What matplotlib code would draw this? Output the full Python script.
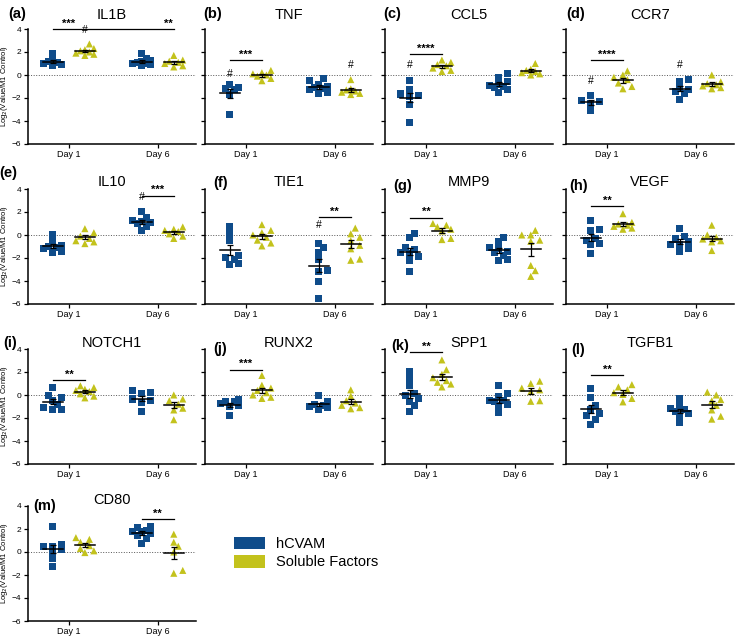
import numpy as np
import matplotlib
matplotlib.use("Agg")
import matplotlib.pyplot as plt
from matplotlib.patches import Patch

plt.rcParams['font.family'] = ['Liberation Sans', 'DejaVu Sans']

# thứ tự mỗi gen: Day1 hCVAM, Day1 Soluble, Day6 hCVAM, Day6 Soluble
IL1B = [[1.85, 1.2, 1.1, 1.0, 0.9, 1.3, 0.8],
        [2.7, 2.2, 2.0, 1.9, 1.7, 2.1, 1.8, 2.3],
        [1.85, 1.4, 1.2, 1.0, 0.9, 0.8, 1.1, 1.3, 1.0],
        [1.7, 1.3, 1.1, 1.0, 0.8, 0.7, 1.2]]
TNF = [[-0.8, -1.1, -1.2, -1.3, -1.7, -3.4],
       [0.4, 0.2, 0.1, 0.0, -0.1, -0.3, -0.5],
       [-0.3, -0.5, -0.8, -1.0, -1.1, -1.2, -1.3, -1.5, -1.6],
       [-0.4, -1.2, -1.3, -1.4, -1.5, -1.6, -1.7]]
CCL5 = [[-0.5, -1.25, -1.65, -1.75, -1.9, -2.55, -4.1],
        [1.3, 1.1, 0.9, 0.8, 0.6, 0.4, 0.3],
        [0.1, -0.2, -0.6, -0.8, -0.9, -1.0, -1.1, -1.3, -1.5],
        [1.0, 0.5, 0.4, 0.3, 0.2, 0.1, 0.0]]
CCR7 = [[-1.75, -2.2, -2.3, -2.5, -3.1],
        [0.35, 0.0, -0.2, -0.4, -0.7, -1.0, -1.2],
        [-0.4, -0.55, -1.1, -1.25, -1.4, -1.6, -2.1],
        [0.0, -0.6, -0.75, -0.85, -0.95, -1.1, -1.2]]
IL10 = [[0.0, -0.6, -0.9, -1.0, -1.1, -1.2, -1.4, -1.5],
        [0.55, 0.2, -0.1, -0.3, -0.5, -0.6, -0.75],
        [2.05, 1.5, 1.3, 1.2, 1.1, 1.0, 0.75, 0.4],
        [0.7, 0.5, 0.4, 0.3, 0.1, -0.1, -0.3]]
TIE1 = [[0.7, 0.1, -0.45, -1.8, -1.95, -2.1, -2.45, -2.6],
        [0.9, 0.4, 0.2, 0.0, -0.2, -0.45, -0.7, -0.95],
        [-0.73, -1.08, -1.5, -2.15, -3.1, -3.2, -4.07, -5.5],
        [0.6, 0.1, -0.2, -0.5, -0.9, -1.2, -2.1, -2.2]]
MMP9 = [[0.1, -0.25, -1.1, -1.3, -1.5, -1.65, -1.9, -2.2, -3.2],
        [1.0, 0.85, 0.7, 0.5, 0.35, -0.3, -0.4],
        [-0.2, -0.6, -1.05, -1.2, -1.5, -1.75, -2.1, -2.2, -1.4],
        [0.4, 0.0, 0.0, -0.45, -0.55, -2.65, -3.1, -3.6]]
VEGF = [[1.3, 0.45, 0.4, -0.3, -0.45, -0.7, -0.85, -1.6],
        [1.85, 1.1, 0.95, 0.85, 0.75, 0.6, 0.5],
        [0.6, -0.1, -0.35, -0.6, -0.8, -0.8, -1.2, -1.4],
        [0.85, 0.0, -0.2, -0.35, -0.5, -0.6, -1.35]]
NOTCH1 = [[0.65, -0.05, -0.2, -0.5, -0.85, -1.1, -1.3, -1.3],
          [0.8, 0.65, 0.5, 0.4, 0.3, 0.1, -0.1, -0.25],
          [0.4, 0.25, 0.1, -0.35, -0.5, -0.65, -1.45],
          [0.0, -0.35, -0.5, -0.8, -1.15, -1.3, -2.15]]
RUNX2 = [[-0.4, -0.55, -0.7, -0.9, -1.0, -0.6, -1.75],
         [1.7, 0.85, 0.6, 0.4, 0.2, 0.0, -0.2, -0.3],
         [-0.05, -0.6, -0.8, -0.9, -1.0, -1.1, -1.3],
         [0.45, -0.1, -0.5, -0.7, -0.9, -1.1, -1.2]]
SPP1 = [[2.0, 1.35, 0.8, 0.1, -0.05, -0.3, -0.55, -0.95, -1.4],
        [3.05, 2.2, 1.8, 1.5, 1.25, 0.95, 0.7, 1.1],
        [0.85, 0.15, -0.15, -0.45, -0.6, -0.95, -1.55, -0.5, -0.8],
        [1.2, 1.0, 0.6, 0.45, 0.3, -0.5, -0.55]]
TGFB1 = [[0.6, -0.2, -0.95, -1.3, -1.6, -1.8, -2.1, -2.55],
         [0.9, 0.7, 0.45, 0.2, 0.05, -0.3, -0.6],
         [-0.35, -1.0, -1.3, -1.45, -1.6, -1.8, -2.4, -1.2],
         [0.25, 0.0, -0.4, -0.9, -1.3, -1.85, -2.1, -0.5]]
CD80 = [[2.2, 0.65, 0.5, 0.5, 0.2, -0.05, -0.6, -1.3],
        [1.25, 1.1, 0.85, 0.55, 0.3, 0.1, -0.05],
        [2.25, 2.1, 1.9, 1.75, 1.6, 1.4, 1.2, 0.7, 1.8],
        [1.55, 0.85, 0.5, 0.0, -1.6, -1.85]]

genes = ['IL1B', 'TNF', 'CCL5', 'CCR7', 'IL10', 'TIE1', 'MMP9', 'VEGF',
         'NOTCH1', 'RUNX2', 'SPP1', 'TGFB1', 'CD80']
gene_data = [IL1B, TNF, CCL5, CCR7, IL10, TIE1, MMP9, VEGF,
             NOTCH1, RUNX2, SPP1, TGFB1, CD80]
panel_labels = ['(a)', '(b)', '(c)', '(d)', '(e)', '(f)', '(g)', '(h)',
                '(i)', '(j)', '(k)', '(l)', '(m)']

# thanh ý nghĩa: (nhóm trái, nhóm phải, y, sao)
sig_bars = [[(0, 1, 4.0, '***'), (1, 3, 4.0, '**')],
            [(0, 1, 1.3, '***')],
            [(0, 1, 1.8, '****')],
            [(0, 1, 1.3, '****')],
            [(2, 3, 3.4, '***')],
            [(2, 3, 1.55, '**')],
            [(0, 1, 1.5, '**')],
            [(0, 1, 2.5, '**')],
            [(0, 1, 1.3, '**')],
            [(0, 1, 2.2, '***')],
            [(0, 1, 3.7, '**')],
            [(0, 1, 1.7, '**')],
            [(2, 3, 2.85, '**')]]
# dấu # : (nhóm, y)
hash_marks = [[(1, 3.5)], [(0, -0.35), (3, 0.45)], [(0, 0.4)],
              [(0, -1.0), (2, 0.45)], [(2, 2.85)], [(2, 0.45)],
              [], [], [], [], [], [], []]

days = ['Day 1', 'Day 6']
groups = ['hCVAM', 'Soluble Factors']
colors = ['#0f4c8a', '#c3c21c']
markers = ['s', '^']

W, H = 738, 638
col_left = [28, 205, 385, 566]
row_top = [29, 189, 349, 506]
ax_w, ax_h = 168, 115
label_pos = [(-0.12, 1.13), (-0.01, 1.13), (-0.01, 1.13), (0.0, 1.13),
             (-0.17, 1.14), (0.05, 1.05), (0.05, 1.03), (0.02, 1.03),
             (-0.15, 1.05), (0.05, 1.0), (0.04, 1.03), (0.03, 0.99),
             (0.03, 1.0)]
title_y = [1.12, 1.06, 1.05, 1.05]

off = 0.18
xpos = [1 - off, 1 + off, 2 - off, 2 + off]
px_x = 89.0   # pixel mỗi đơn vị x
px_y = 11.5   # pixel mỗi đơn vị y


def swarm(vals, size=6.0, max_dx=13.0):
    # beeswarm đơn giản, giới hạn độ rộng cụm
    vals = np.asarray(vals, float)
    order = np.argsort(vals)
    placed = []
    dx = np.zeros(len(vals))
    cands = [0.0]
    step = 4.5
    k = 1
    while k * step <= max_dx:
        cands += [k * step, -k * step]
        k += 1
    for i in order:
        y = vals[i] * px_y
        best, best_d = 0.0, -1
        for cand in cands:
            d = min([np.hypot(cand - px, y - py) for px, py in placed] or [99])
            if d >= size:
                best = cand
                break
            if d > best_d:
                best, best_d = cand, d
        placed.append((best, y))
        dx[i] = best / px_x
    return dx


fig = plt.figure(figsize=(W / 100, H / 100), dpi=100)

for n, gene in enumerate(genes):
    r, c = divmod(n, 4)
    ax = fig.add_axes([col_left[c] / W, (H - row_top[r] - ax_h) / H, ax_w / W, ax_h / H])
    ax.axhline(0, color='#555555', lw=0.7, ls=':', zorder=0)
    for g in range(4):
        vals = np.array(gene_data[n][g])
        k = g % 2
        ax.scatter(xpos[g] + swarm(vals), vals, marker=markers[k], s=26,
                   color=colors[k], edgecolors='none', zorder=2)
        m = vals.mean()
        sem = vals.std(ddof=1) / np.sqrt(len(vals))
        ax.plot([xpos[g] - 0.11, xpos[g] + 0.11], [m, m], color='black', lw=1.1, zorder=3)
        ax.errorbar(xpos[g], m, yerr=sem, color='black', lw=0.9, capsize=2.5,
                    capthick=0.9, zorder=3)
    for g1, g2, y, stars in sig_bars[n]:
        ax.plot([xpos[g1], xpos[g2]], [y, y], color='black', lw=0.9, clip_on=False)
        sx = (xpos[g1] + xpos[g2]) / 2 if g2 - g1 == 1 else xpos[g2] - 0.06
        ax.text(sx, y + 0.05, stars, ha='center', va='bottom', fontsize=8,
                fontweight='bold', clip_on=False)
    for g, y in hash_marks[n]:
        ax.text(xpos[g], y, '#', ha='center', va='bottom', fontsize=7.5)

    ax.set_xlim(0.54, 2.43)
    ax.set_ylim(-6, 4)
    ax.set_yticks([-6, -4, -2, 0, 2, 4])
    ax.set_xticks([1, 2])
    ax.set_xticklabels(days, fontsize=6.5)
    ax.tick_params(axis='both', direction='out', length=3, width=0.9, labelsize=6, pad=2)
    ax.tick_params(axis='x', labelsize=6.5, pad=1.5)
    for s in ['top', 'right']:
        ax.spines[s].set_visible(False)
    for s in ['left', 'bottom']:
        ax.spines[s].set_linewidth(1.1)
    if c == 0:
        ax.set_ylabel('Log$_2$(Value/M1 Control)', fontsize=5.5, labelpad=1)
    else:
        ax.set_yticklabels([])
    ax.text(0.5, title_y[r], gene, transform=ax.transAxes, ha='center',
            va='center', fontsize=10.5)
    lx, ly = label_pos[n]
    ax.text(lx, ly, panel_labels[n], transform=ax.transAxes, ha='left',
            va='center', fontsize=10.5, fontweight='bold')

handles = [Patch(facecolor=colors[0]), Patch(facecolor=colors[1])]
fig.legend(handles, groups, loc='center left', bbox_to_anchor=(234 / W, 1 - 553 / H),
           frameon=False, fontsize=10.5, handlelength=2.1, handleheight=0.95,
           labelspacing=0.3, borderpad=0, borderaxespad=0, handletextpad=0.8)

fig.savefig('out.png', dpi=100)
